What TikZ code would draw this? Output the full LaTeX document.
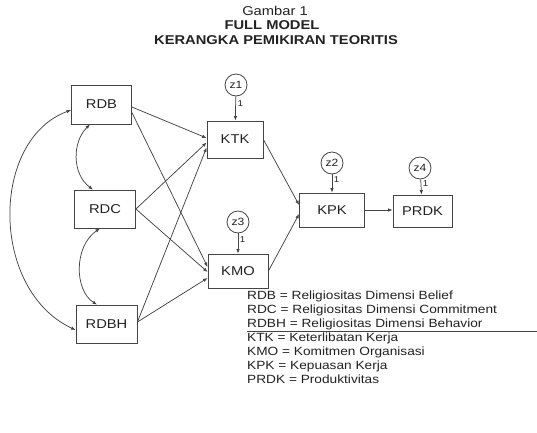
\documentclass[tikz,border=0pt]{standalone}
\usepackage{fontspec}
\setmainfont{Liberation Sans}[FakeStretch=1.15]
\usetikzlibrary{arrows.meta,calc}
\definecolor{linec}{HTML}{444444}
\definecolor{textc}{HTML}{222222}
\begin{document}
\begin{tikzpicture}[x=1pt,y=-1pt,
  every node/.style={text=textc},
  box/.style={draw=linec, line width=0.8pt, inner sep=0pt, font=\fontsize{12.8}{14}\selectfont},
  err/.style={draw=linec, line width=0.8pt, circle, minimum size=22pt, inner sep=0pt, font=\fontsize{10.5}{10}\selectfont},
  arr/.style={draw=linec, line width=0.75pt, -{Latex[length=4.5pt,width=3.5pt]}},
  darr/.style={draw=linec, line width=0.75pt, {Latex[length=4.5pt,width=3.5pt]}-{Latex[length=4.5pt,width=3.5pt]}},
  one/.style={font=\fontsize{8.5}{8}\selectfont, inner sep=1.5pt},
  ttl/.style={font=\fontsize{12.8}{14}\selectfont},
  legend/.style={font=\fontsize{11.9}{14}\selectfont, align=left, inner sep=0pt}
]
\useasboundingbox (0,0) rectangle (537,432);

% title
\node[ttl] (t1) at (275,11) {Gambar 1};
\node[ttl,font=\fontsize{12.8}{14}\selectfont\bfseries] (t2) at (272,25) {FULL MODEL};
\node[ttl,font=\fontsize{12.8}{14}\selectfont\bfseries] (t3) at (276,40) {KERANGKA PEMIKIRAN TEORITIS};

% boxes
\node[box, minimum width=60pt, minimum height=39pt] (RDB) at (101.5,104.5) {RDB};
\node[box, minimum width=61pt, minimum height=38pt] (RDC) at (105,209) {RDC};
\node[box, minimum width=61pt, minimum height=38pt] (RDBH) at (106.5,324) {RDBH};
\node[box, minimum width=56pt, minimum height=37pt] (KTK) at (235,139.5) {KTK};
\node[box, minimum width=60pt, minimum height=34pt] (KMO) at (238,271) {KMO};
\node[box, minimum width=65pt, minimum height=34pt] (KPK) at (332,210) {KPK};
\node[box, minimum width=59pt, minimum height=32pt] (PRDK) at (422.5,211) {PRDK};

% error terms
\node[err] (z1) at (236,85) {z1};
\node[err] (z2) at (332,163) {z2};
\node[err] (z3) at (238,222) {z3};
\node[err] (z4) at (420,168) {z4};

\draw[arr] (z1) -- (KTK) node[one, pos=0.3, right] {1};
\draw[arr] (z2) -- (KPK) node[one, pos=0.3, right] {1};
\draw[arr] (z3) -- (KMO) node[one, pos=0.3, right] {1};
\draw[arr] (z4) -- (PRDK) node[one, pos=0.3, right] {1};

% paths
\draw[arr] ($(RDB.east)+(0,2.5)$) -- ($(KTK.west)+(0,-1.5)$);
\draw[arr] ($(RDB.east)+(0,8)$) -- ($(KMO.west)+(0,-4)$);
\draw[arr] (RDC.east) -- ($(KTK.west)+(0,3)$);
\draw[arr] (RDC.east) -- ($(KMO.west)+(0,1)$);
\draw[arr] ($(RDBH.east)+(0,-2)$) -- ($(KTK.west)+(0,8)$);
\draw[arr] ($(RDBH.east)+(0,-2)$) -- ($(KMO.west)+(0,7)$);
\draw[arr] (KTK.east) -- ($(KPK.west)+(0,-5)$);
\draw[arr] (KMO.east) -- ($(KPK.west)+(0,4)$);
\draw[arr] (KPK.east) -- (KPK.east -| PRDK.west);

% covariances
\draw[darr] ($(RDB.south)+(-11.5,0)$) .. controls (72,142) and (72,174) .. ($(RDC.north)+(-12,0)$);
\draw[darr] ($(RDC.south)+(-5,0)$) .. controls (74,246) and (74,290) .. ($(RDBH.north)+(-9.5,0)$);
\draw[darr] ($(RDB.west)+(0,5.5)$) .. controls (-10,140) and (-10,290) .. ($(RDBH.west)+(0,6)$);

% legend
\node[legend, anchor=north west] (leg) at (247,291) {RDB = Religiositas Dimensi Belief\\
RDC = Religiositas Dimensi Commitment\\
RDBH = Religiositas Dimensi Behavior\\
KTK = Keterlibatan Kerja\\
KMO = Komitmen Organisasi\\
KPK = Kepuasan Kerja\\
PRDK = Produktivitas};
\coordinate (ul1) at (247,331);
\coordinate (ul2) at (537,331);
\draw[linec, line width=0.9pt] (ul1) -- (ul2);
\end{tikzpicture}
\end{document}
